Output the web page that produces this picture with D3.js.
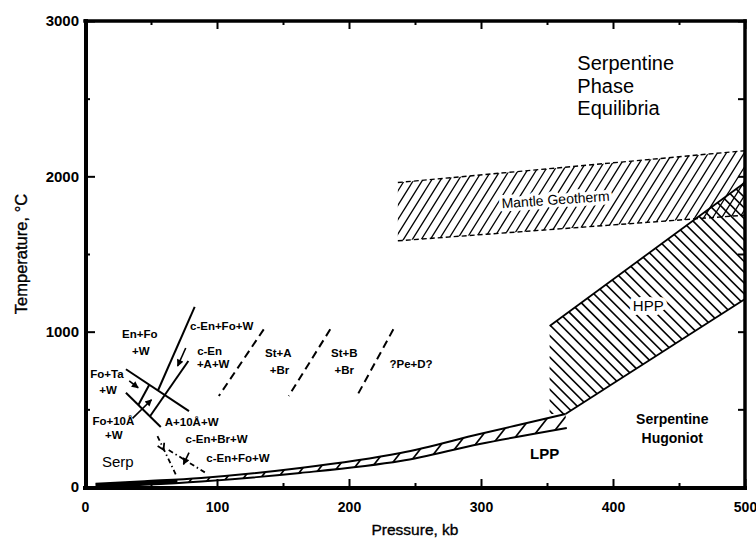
<!DOCTYPE html>
<html><head><meta charset="utf-8">
<script src="https://cdn.jsdelivr.net/npm/d3@7"></script>
<style>
html,body{margin:0;padding:0;background:#fff;}
svg{display:block;font-family:"Liberation Sans",Arial,Helvetica,sans-serif;}
</style></head><body>
<svg id="chart" width="756" height="545"></svg>
<script>
// ---------------- data ----------------
const pressureTicks = [0, 100, 200, 300, 400, 500];
const pressureMinor = [50, 150, 250, 350, 450];
const tempTicks = [0, 1000, 2000, 3000];
const tempMinor = [500, 1500, 2500];

// Mantle geotherm band (pressure kb, temperature C)
const geothermTop = [[237, 1960], [500, 2165]];
const geothermBottom = [[237, 1585], [500, 1750]];

// High-pressure phase region of the Hugoniot
const hppRegion = [[352, 1037], [500, 1960], [500, 1210], [364, 470], [352, 470]];
const hppTopEdge = [[352, 1037], [500, 1960]];
const hppBottomEdge = [[364, 470], [500, 1210]];

// Low-pressure phase Hugoniot band
const lppUpper = [[8, 22], [45, 38], [88, 58], [163, 122], [239, 219], [299, 341], [364, 470]];
const lppLower = [[8, 2], [45, 14], [88, 35], [163, 90], [239, 167], [299, 277], [365, 380]];
const lppSolidUntil = 70;

// phase-equilibrium reaction lines
const reactionLines = [
  [[83.1, 1159], [55.1, 618]],
  [[78.3, 811], [49.4, 457]],
  [[31.0, 758], [78.8, 489]],
  [[31.0, 607], [57.4, 386]],
  [[48.6, 657], [40.4, 528]]
];
const arrowLines = [
  [[33.5, 683], [40.3, 639]],
  [[76.3, 895], [70.2, 779]],
  [[36.0, 442], [50.4, 562]],
  [[78.8, 221], [74.6, 146]]
];
const dashDotLines = [
  [[54.9, 328], [68.7, 82]],
  [[63.4, 238], [92.7, 84]]
];
const chevronPoint = [[59.5, 240], [55.5, 310]];
const dashedBoundaries = [
  [[135.4, 1015], [101.4, 586]],
  [[185.8, 1015], [154.3, 586]],
  [[233.6, 1015], [206.0, 586]]
];

const labels = [
  {t: "En+Fo", p: 41.5, T: 985, k: "ph"},
  {t: "+W", p: 42.3, T: 876, k: "ph"},
  {t: "c-En+Fo+W", p: 103.5, T: 1036, k: "ph"},
  {t: "c-En", p: 94.4, T: 876, k: "ph"},
  {t: "+A+W", p: 97.1, T: 792, k: "ph"},
  {t: "Fo+Ta", p: 16.6, T: 727, k: "ph"},
  {t: "+W", p: 17.4, T: 624, k: "ph"},
  {t: "Fo+10Å", p: 21.5, T: 425, k: "ph"},
  {t: "+W", p: 21.9, T: 335, k: "ph"},
  {t: "A+10Å+W", p: 80.8, T: 418, k: "ph"},
  {t: "c-En+Br+W", p: 99.7, T: 306, k: "ph"},
  {t: "c-En+Fo+W", p: 115.9, T: 187, k: "ph"},
  {t: "Serp", p: 24.9, T: 161, k: "serp"},
  {t: "St+A", p: 146.5, T: 863, k: "ph"},
  {t: "+Br", p: 147.3, T: 753, k: "ph"},
  {t: "St+B", p: 196.4, T: 863, k: "ph"},
  {t: "+Br", p: 196.4, T: 753, k: "ph"},
  {t: "?Pe+D?", p: 247, T: 792, k: "ph"},
  {t: "Mantle Geotherm", p: 356.5, T: 1850, k: "geo"},
  {t: "HPP", p: 426.7, T: 1165, k: "hpp"},
  {t: "Serpentine", p: 444.9, T: 438, k: "hug"},
  {t: "Hugoniot", p: 444.9, T: 315, k: "hug"},
  {t: "LPP", p: 348.2, T: 212, k: "lpp"}
];
const titleLines = ["Serpentine", "Phase", "Equilibria"];
const titleAnchor = [373, 2730];
const xTitle = "Pressure, kb";
const yTitle = "Temperature, \u00B0C";

// ---------------- drawing ----------------
const styles = {
  ph:   {size: 11.5, weight: "bold", halo: 0},
  serp: {size: 15, weight: "normal", halo: 0},
  geo:  {size: 14, weight: "normal", halo: 7, rot: -4},
  hpp:  {size: 15, weight: "normal", halo: 8},
  hug:  {size: 14, weight: "bold", halo: 0},
  lpp:  {size: 15, weight: "bold", halo: 0}
};

const svg = d3.select("#chart");
const x = d3.scaleLinear().domain([0, 500]).range([85, 745]);
const y = d3.scaleLinear().domain([0, 3000]).range([487, 21]);
const line = d3.line().x(d => x(d[0])).y(d => y(d[1]));
const smooth = d3.line().x(d => x(d[0])).y(d => y(d[1])).curve(d3.curveCatmullRom);

const defs = svg.append("defs");
defs.append("marker").attr("id", "ah").attr("viewBox", "0 0 10 10")
  .attr("refX", 9).attr("refY", 5).attr("markerWidth", 9).attr("markerHeight", 7)
  .attr("markerUnits", "userSpaceOnUse").attr("orient", "auto")
  .append("path").attr("d", "M0,0L10,5L0,10z").attr("fill", "#000");

const plot = svg.append("g");

function hatch(id, pathD, angleDeg, spacing, width) {
  defs.append("clipPath").attr("id", id).append("path").attr("d", pathD);
  const a = angleDeg * Math.PI / 180;
  const dx = Math.cos(a), dy = -Math.sin(a);
  const nx = -dy, ny = dx;
  const cx = 415, cy = 270, R = 520;
  const offs = d3.range(-R, R, spacing);
  plot.append("g").attr("clip-path", `url(#${id})`)
    .selectAll("line").data(offs).join("line")
    .attr("x1", o => cx + nx * o - dx * R).attr("y1", o => cy + ny * o - dy * R)
    .attr("x2", o => cx + nx * o + dx * R).attr("y2", o => cy + ny * o + dy * R)
    .attr("stroke", "#000").attr("stroke-width", width);
}

// Mantle geotherm band
const geoPoly = geothermTop.concat(geothermBottom.slice().reverse());
hatch("clipGeo", line(geoPoly) + "Z", 58, 7.6, 1.3);
[geothermTop, geothermBottom].forEach(l =>
  plot.append("path").attr("d", line(l)).attr("fill", "none").attr("stroke", "#000")
    .attr("stroke-width", 1.4).attr("stroke-dasharray", "5,3"));

// HPP
hatch("clipHpp", line(hppRegion) + "Z", -45, 7.6, 1.6);
[hppTopEdge, hppBottomEdge].forEach(l =>
  plot.append("path").attr("d", line(l)).attr("fill", "none").attr("stroke", "#000").attr("stroke-width", 1.8));

// LPP
const lppPath = smooth(lppUpper) + "L" + smooth(lppLower.slice().reverse()).slice(1) + "Z";
hatch("clipLpp", lppPath, 52, 13.5, 1.7);
defs.append("clipPath").attr("id", "clipLeft").append("rect")
  .attr("x", 0).attr("y", 0).attr("width", x(lppSolidUntil)).attr("height", 545);
plot.append("g").attr("clip-path", "url(#clipLeft)")
  .append("path").attr("d", lppPath).attr("fill", "#000");
[lppUpper, lppLower].forEach(l =>
  plot.append("path").attr("d", smooth(l)).attr("fill", "none").attr("stroke", "#000").attr("stroke-width", 1.9));

// reaction lines
plot.selectAll(".rx").data(reactionLines).join("path").attr("class", "rx")
  .attr("d", line).attr("fill", "none").attr("stroke", "#000").attr("stroke-width", 2);
plot.selectAll(".ar").data(arrowLines).join("path").attr("class", "ar")
  .attr("d", line).attr("fill", "none").attr("stroke", "#000").attr("stroke-width", 1.6)
  .attr("marker-end", "url(#ah)");
plot.selectAll(".dd").data(dashDotLines).join("path").attr("class", "dd")
  .attr("d", line).attr("fill", "none").attr("stroke", "#000").attr("stroke-width", 1.8)
  .attr("stroke-dasharray", "5,3,1.5,3");
plot.selectAll(".db").data(dashedBoundaries).join("path").attr("class", "db")
  .attr("d", line).attr("fill", "none").attr("stroke", "#000").attr("stroke-width", 2)
  .attr("stroke-dasharray", "8,5");
// open chevron
{
  const tip = [x(chevronPoint[0][0]), y(chevronPoint[0][1])];
  const from = [x(chevronPoint[1][0]), y(chevronPoint[1][1])];
  const ang = Math.atan2(tip[1] - from[1], tip[0] - from[0]);
  const L = 7, w = 0.55;
  const p1 = [tip[0] - L * Math.cos(ang - w), tip[1] - L * Math.sin(ang - w)];
  const p2 = [tip[0] - L * Math.cos(ang + w), tip[1] - L * Math.sin(ang + w)];
  plot.append("path").attr("d", `M${p1}L${tip}L${p2}`).attr("fill", "none")
    .attr("stroke", "#000").attr("stroke-width", 1.8);
}

// labels
labels.forEach(l => {
  const st = styles[l.k];
  const px = x(l.p), py = y(l.T);
  const t = svg.append("text").attr("x", px).attr("y", py).attr("dy", "0.35em")
    .attr("text-anchor", "middle").attr("font-size", st.size).attr("font-weight", st.weight)
    .attr("fill", "#000").text(l.t);
  if (st.rot) t.attr("transform", `rotate(${st.rot},${px},${py})`);
  if (st.halo) t.attr("stroke", "#fff").attr("stroke-width", st.halo)
    .attr("paint-order", "stroke").attr("stroke-linejoin", "round");
});
svg.append("text").attr("x", x(titleAnchor[0])).attr("y", y(titleAnchor[1]))
  .attr("font-size", 20).attr("fill", "#000")
  .selectAll("tspan").data(titleLines).join("tspan")
  .attr("x", x(titleAnchor[0])).attr("dy", (d, i) => i === 0 ? "0.35em" : "1.13em").text(d => d);

// axes
function styleAxis(g, fs) {
  g.select(".domain").remove();
  g.selectAll(".tick line").attr("stroke", "#000").attr("stroke-width", 2);
  g.selectAll(".tick text").attr("fill", "#000").attr("font-size", fs).attr("font-weight", "bold")
    .attr("font-family", "'Liberation Sans',Arial,sans-serif");
}
const fmt = d3.format("d");
styleAxis(svg.append("g").attr("transform", `translate(0,${y(0)})`)
  .call(d3.axisBottom(x).tickValues(pressureTicks).tickSize(-8).tickPadding(15).tickFormat(fmt)), 14);
styleAxis(svg.append("g").attr("transform", `translate(0,${y(0)})`)
  .call(d3.axisBottom(x).tickValues(pressureMinor).tickSize(-4).tickFormat("")), 14);
styleAxis(svg.append("g").attr("transform", `translate(0,${y(3000)})`)
  .call(d3.axisTop(x).tickValues(pressureTicks).tickSize(-8).tickFormat("")), 14);
styleAxis(svg.append("g").attr("transform", `translate(0,${y(3000)})`)
  .call(d3.axisTop(x).tickValues(pressureMinor).tickSize(-4).tickFormat("")), 14);
styleAxis(svg.append("g").attr("transform", `translate(${x(0)},0)`)
  .call(d3.axisLeft(y).tickValues(tempTicks).tickSize(-10).tickPadding(6).tickFormat(fmt)), 15);
styleAxis(svg.append("g").attr("transform", `translate(${x(0)},0)`)
  .call(d3.axisLeft(y).tickValues(tempMinor).tickSize(-5).tickFormat("")), 15);
styleAxis(svg.append("g").attr("transform", `translate(${x(500)},0)`)
  .call(d3.axisRight(y).tickValues(tempTicks).tickSize(-7).tickFormat("")), 15);
styleAxis(svg.append("g").attr("transform", `translate(${x(500)},0)`)
  .call(d3.axisRight(y).tickValues(tempMinor).tickSize(-7).tickFormat("")), 15);

// frame
const fr = svg.append("g").attr("stroke", "#000").attr("stroke-linecap", "square");
fr.append("line").attr("x1", x(0) + 1).attr("x2", x(0) + 1).attr("y1", y(3000)).attr("y2", y(0)).attr("stroke-width", 4);
fr.append("line").attr("x1", x(0)).attr("x2", x(500)).attr("y1", y(0) + 1).attr("y2", y(0) + 1).attr("stroke-width", 4);
fr.append("line").attr("x1", x(0)).attr("x2", x(500)).attr("y1", y(3000)).attr("y2", y(3000)).attr("stroke-width", 3.5);
fr.append("line").attr("x1", x(500)).attr("x2", x(500)).attr("y1", y(3000)).attr("y2", y(0)).attr("stroke-width", 3.5);

// axis titles
svg.append("text").attr("x", 415).attr("y", 535).attr("text-anchor", "middle")
  .attr("font-size", 15.5).attr("fill", "#000").attr("stroke", "#000").attr("stroke-width", 0.35).text(xTitle);
svg.append("text").attr("transform", "translate(27,254) rotate(-90)").attr("text-anchor", "middle")
  .attr("font-size", 16.5).attr("fill", "#000").attr("stroke", "#000").attr("stroke-width", 0.35).text(yTitle);
</script>
</body></html>
